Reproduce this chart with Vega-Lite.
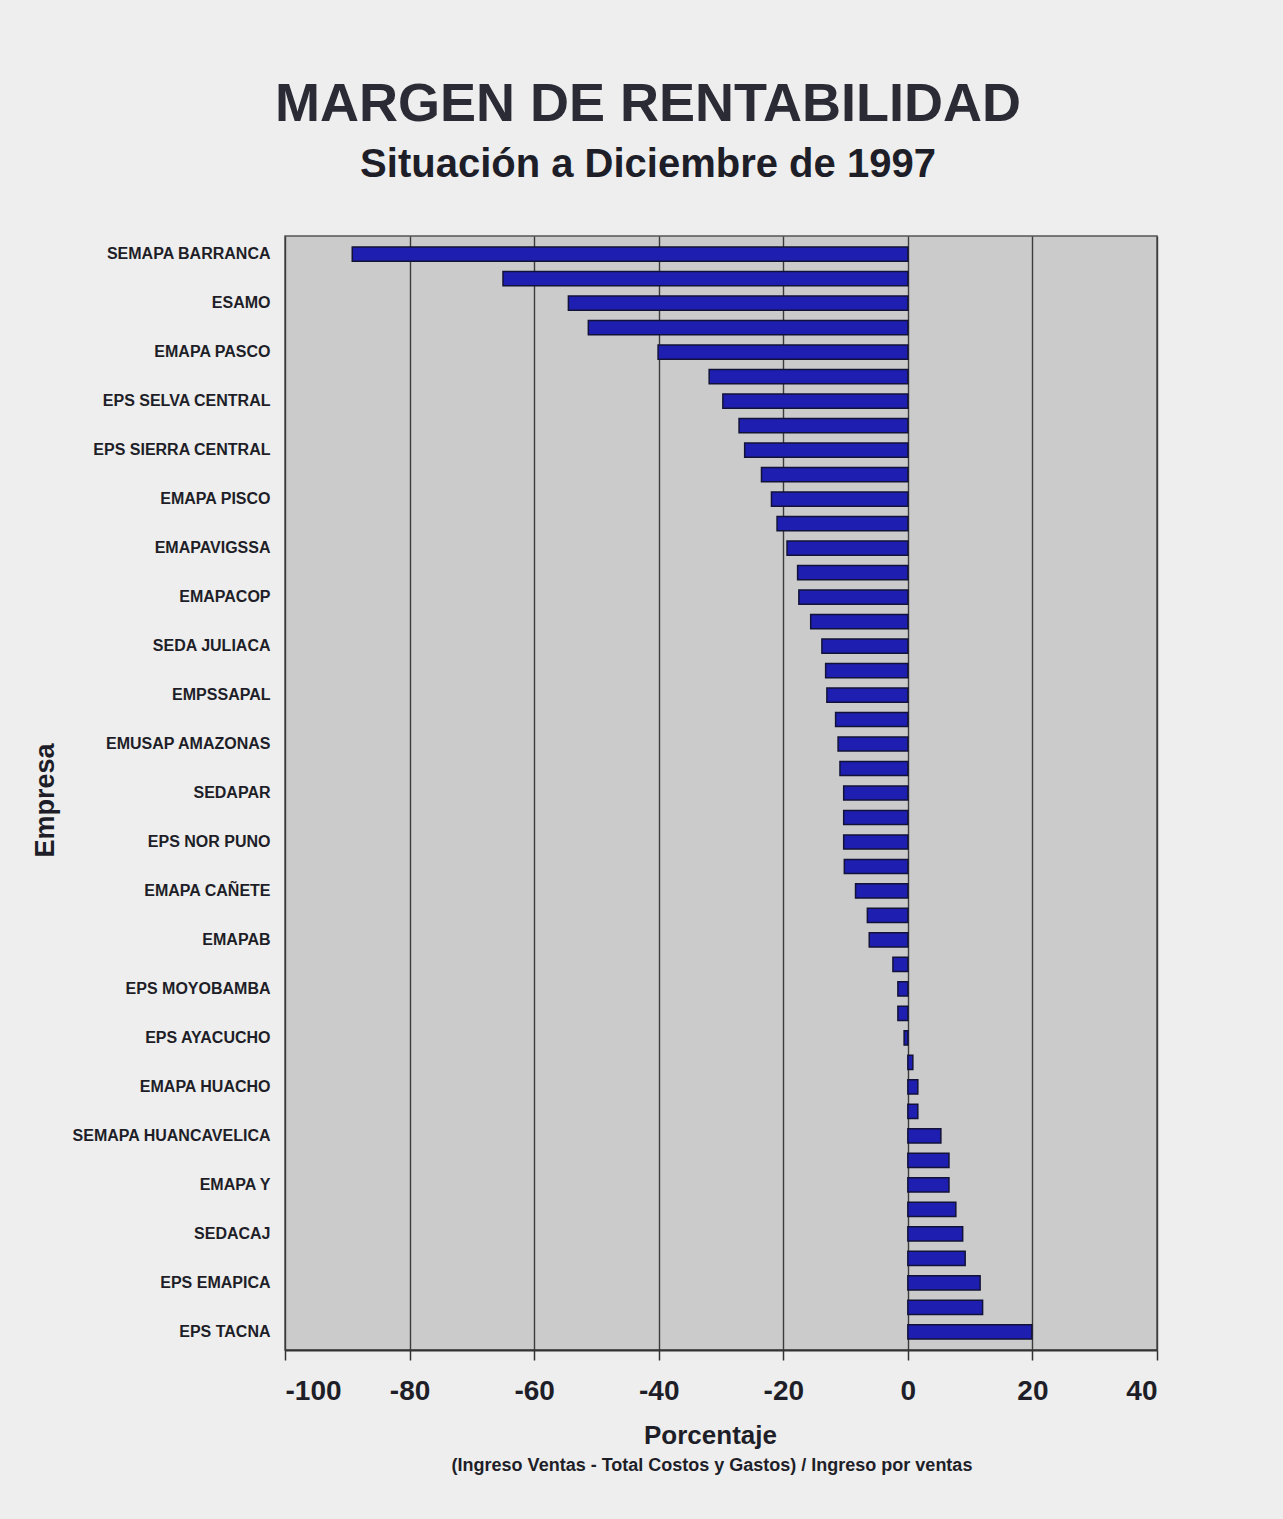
{
  "$schema": "https://vega.github.io/schema/vega-lite/v6.json",
  "background": "#eeeeee",
  "padding": {"left": 30, "top": 78, "right": 130, "bottom": 50},
  "title": {
    "text": "MARGEN DE RENTABILIDAD",
    "subtitle": "Situación a Diciembre de 1997",
    "anchor": "middle",
    "frame": "group",
    "dx": -73,
    "font": "Liberation Sans",
    "fontSize": 54,
    "fontWeight": "bold",
    "color": "#2b2b36",
    "subtitleFont": "Liberation Sans",
    "subtitleFontSize": 40,
    "subtitleFontWeight": "bold",
    "subtitleColor": "#1e1e28",
    "subtitlePadding": 13,
    "offset": 50
  },
  "data": {
    "values": [
      {"empresa": "SEMAPA BARRANCA", "margen": -89.2},
      {"empresa": "Empresa 02", "margen": -65.0},
      {"empresa": "ESAMO", "margen": -54.5},
      {"empresa": "Empresa 04", "margen": -51.3},
      {"empresa": "EMAPA PASCO", "margen": -40.1},
      {"empresa": "Empresa 06", "margen": -31.9},
      {"empresa": "EPS SELVA CENTRAL", "margen": -29.7},
      {"empresa": "Empresa 08", "margen": -27.1},
      {"empresa": "EPS SIERRA CENTRAL", "margen": -26.2},
      {"empresa": "Empresa 10", "margen": -23.5},
      {"empresa": "EMAPA PISCO", "margen": -21.9},
      {"empresa": "Empresa 12", "margen": -21.0},
      {"empresa": "EMAPAVIGSSA", "margen": -19.4},
      {"empresa": "Empresa 14", "margen": -17.7},
      {"empresa": "EMAPACOP", "margen": -17.5},
      {"empresa": "Empresa 16", "margen": -15.6},
      {"empresa": "SEDA JULIACA", "margen": -13.8},
      {"empresa": "Empresa 18", "margen": -13.2},
      {"empresa": "EMPSSAPAL", "margen": -13.0},
      {"empresa": "Empresa 20", "margen": -11.6},
      {"empresa": "EMUSAP AMAZONAS", "margen": -11.2},
      {"empresa": "Empresa 22", "margen": -10.9},
      {"empresa": "SEDAPAR", "margen": -10.3},
      {"empresa": "Empresa 24", "margen": -10.3},
      {"empresa": "EPS NOR PUNO", "margen": -10.3},
      {"empresa": "Empresa 26", "margen": -10.2},
      {"empresa": "EMAPA CAÑETE", "margen": -8.4},
      {"empresa": "Empresa 28", "margen": -6.5},
      {"empresa": "EMAPAB", "margen": -6.2},
      {"empresa": "Empresa 30", "margen": -2.4},
      {"empresa": "EPS MOYOBAMBA", "margen": -1.6},
      {"empresa": "Empresa 32", "margen": -1.6},
      {"empresa": "EPS  AYACUCHO", "margen": -0.6},
      {"empresa": "Empresa 34", "margen": 0.8},
      {"empresa": "EMAPA HUACHO", "margen": 1.6},
      {"empresa": "Empresa 36", "margen": 1.6},
      {"empresa": "SEMAPA HUANCAVELICA", "margen": 5.3},
      {"empresa": "Empresa 38", "margen": 6.6},
      {"empresa": "EMAPA Y", "margen": 6.6},
      {"empresa": "Empresa 40", "margen": 7.7},
      {"empresa": "SEDACAJ", "margen": 8.8},
      {"empresa": "Empresa 42", "margen": 9.2},
      {"empresa": "EPS EMAPICA", "margen": 11.6},
      {"empresa": "Empresa 44", "margen": 12.0},
      {"empresa": "EPS TACNA", "margen": 19.9}
    ]
  },
  "vconcat": [
    {
      "width": 872,
      "height": 1114,
      "title": {
        "text": "(Ingreso Ventas - Total Costos y Gastos) / Ingreso por ventas",
        "orient": "bottom",
        "anchor": "middle",
        "font": "Liberation Sans",
        "fontSize": 18,
        "fontWeight": "bold",
        "color": "#1e1e28",
        "offset": 9,
        "dx": -9
      },
      "mark": {"type": "bar", "color": "#1e1eb0", "stroke": "#121238", "strokeWidth": 1.5},
      "encoding": {
        "y": {
          "field": "empresa",
          "type": "nominal",
          "sort": null,
          "scale": {"paddingInner": 0.42, "paddingOuter": 0.45},
          "axis": {
            "title": "Empresa",
            "titleFont": "Liberation Sans",
            "titleFontSize": 27,
            "titleFontWeight": "bold",
            "titleColor": "#1e1e28",
            "titleX": -226,
            "titleY": 564,
            "labelExpr": "slice(datum.value, 0, 8) == 'Empresa ' ? '' : datum.value",
            "labelFont": "Liberation Sans",
            "labelFontSize": 16,
            "labelFontWeight": "bold",
            "labelColor": "#1e1e28",
            "labelPadding": 15,
            "labelLimit": 0,
            "ticks": false,
            "domain": false,
            "grid": false
          }
        },
        "x": {
          "field": "margen",
          "type": "quantitative",
          "scale": {"domain": [-100, 40], "nice": false, "zero": false},
          "axis": {
            "title": "Porcentaje",
            "values": [-100, -80, -60, -40, -20, 0, 20, 40],
            "labelExpr": "toString(datum.value)",
            "titleFont": "Liberation Sans",
            "titleFontSize": 26,
            "titleFontWeight": "bold",
            "titleColor": "#1e1e28",
            "titlePadding": 17,
            "titleX": 425,
            "labelFont": "Liberation Sans",
            "labelFontSize": 28,
            "labelFontWeight": "bold",
            "labelColor": "#1e1e28",
            "labelPadding": 17,
            "tickSize": 10,
            "tickColor": "#333333",
            "tickWidth": 1.5,
            "domainColor": "#333333",
            "domainWidth": 2,
            "grid": true,
            "gridColor": "#3c3c3c",
            "gridWidth": 1.4
          }
        }
      }
    }
  ],
  "config": {
    "view": {"fill": "#cbcbcb", "stroke": "#555555", "strokeWidth": 1.5},
    "concat": {"spacing": 0}
  }
}
